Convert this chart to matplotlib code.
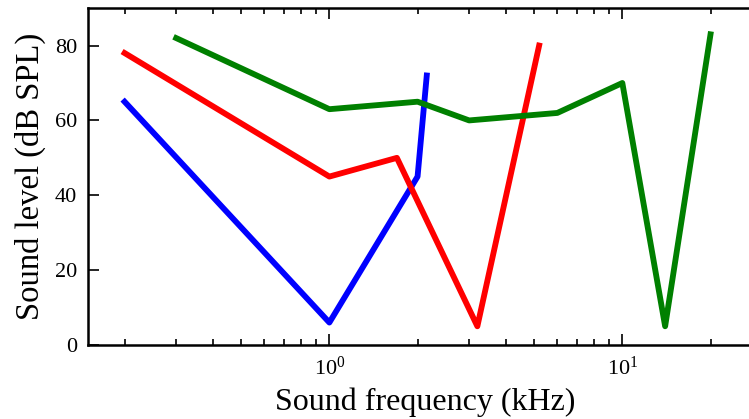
import numpy as np
import matplotlib
matplotlib.use("Agg")
import matplotlib.pyplot as plt
from matplotlib.ticker import LogLocator, NullFormatter

plt.rcParams["font.family"] = ["Liberation Serif", "DejaVu Serif"]
plt.rcParams["mathtext.fontset"] = "stix"

# hearing ranges, frequency in kHz, level in dB SPL
blue_freq = [0.2, 1.0, 2.0, 2.15]
blue_level = [65, 6, 45, 72]

red_freq = [0.2, 1.0, 1.7, 3.2, 5.2]
red_level = [78, 45, 50, 5, 80]

green_freq = [0.3, 1.0, 2.0, 3.0, 6.0, 10.0, 14.0, 20.0]
green_level = [82, 63, 65, 60, 62, 70, 5, 83]

y_ticks = [0, 20, 40, 60, 80]


def main():
    fig = plt.figure(figsize=(7.49, 4.19), dpi=100)
    ax = fig.add_axes([0.1175, 0.1766, 0.90, 0.804])

    ax.plot(blue_freq, blue_level, color="#0000ff", linewidth=4.2)
    ax.plot(red_freq, red_level, color="#ff0000", linewidth=4.2)
    ax.plot(green_freq, green_level, color="#008000", linewidth=4.2)

    ax.set_xscale("log")
    ax.set_xlim(0.15, 30)
    ax.set_ylim(0, 90)
    ax.set_yticks(y_ticks)
    ax.xaxis.set_minor_locator(LogLocator(base=10, subs=np.arange(2, 10)))
    ax.xaxis.set_minor_formatter(NullFormatter())

    for s in ax.spines.values():
        s.set_linewidth(1.8)
    ax.tick_params(which="both", direction="in", top=True, right=True,
                   labelsize=16, width=1.2)
    ax.tick_params(which="major", length=8, pad=8)
    ax.tick_params(which="minor", length=4)

    ax.set_xlabel("Sound frequency (kHz)", fontsize=23, labelpad=6)
    ax.set_ylabel("Sound level (dB SPL)", fontsize=23.5, labelpad=6)

    fig.savefig("out.png", dpi=100)
    plt.close(fig)


if __name__ == "__main__":
    main()
